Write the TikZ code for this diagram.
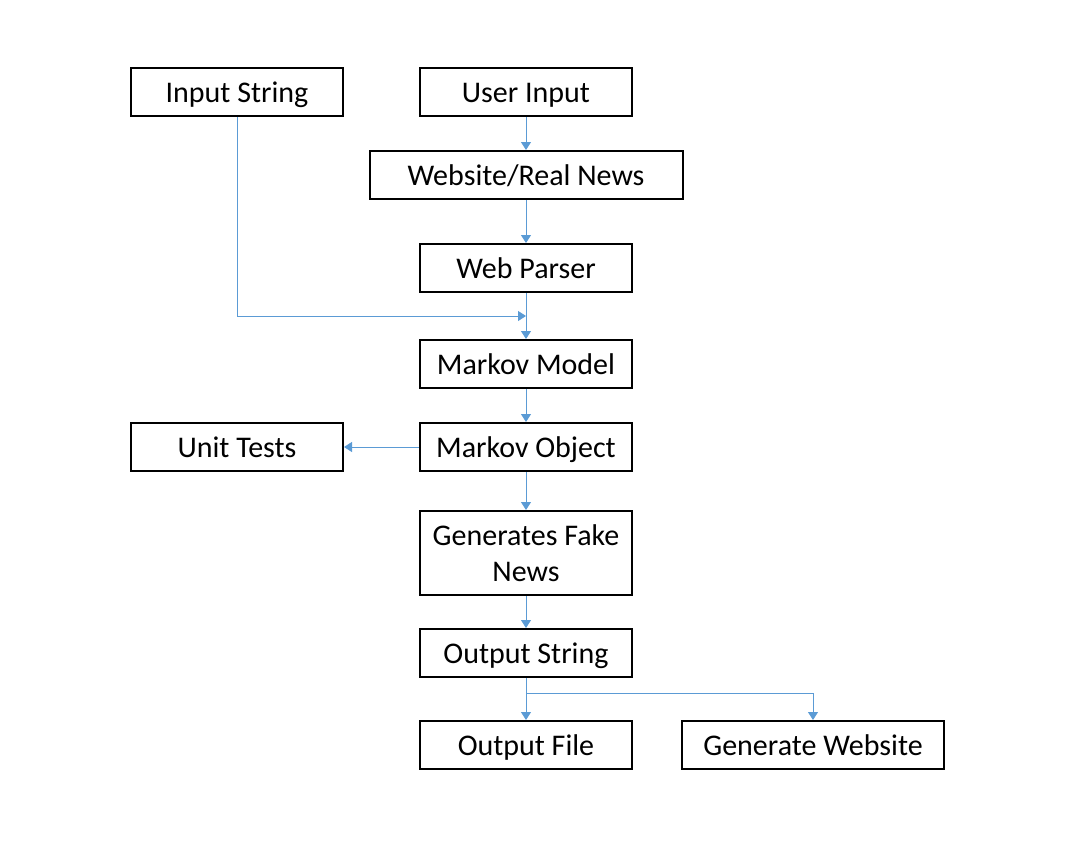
\documentclass[tikz,border=0pt]{standalone}
\usepackage{fontspec}
\setmainfont{Carlito}
\usetikzlibrary{arrows.meta}
\definecolor{linkblue}{HTML}{5B9BD5}
\begin{document}
\begin{tikzpicture}[x=0.5pt, y=-0.5pt,
    stage/.style={draw, line width=1pt, inner sep=0pt, minimum width=106pt,
        minimum height=24pt, align=center, text height=13pt, text depth=3pt,
        font=\fontsize{15pt}{18pt}\selectfont},
    link/.style={draw=linkblue, line width=0.5pt, -{Triangle[length=4pt, width=5pt]}}]
        \useasboundingbox (0, 0) rectangle (1088, 847);

        \node (instr) at (237, 92) [stage] {Input String};
        \node (user) at (526, 92) [stage] {User Input};
        \node (site) at (526, 175) [stage, minimum width=156.5pt] {Website/Real News};
        \node (parser) at (526, 268) [stage] {Web Parser};
        \node (model) at (526, 364) [stage] {Markov Model};
        \node (unit) at (237, 447) [stage] {Unit Tests};
        \node (object) at (526, 447) [stage] {Markov Object};
        \node (fake) at (526, 553) [stage, minimum height=42pt, text height=, text depth=]
            {Generates Fake\\News};
        \node (outstr) at (526, 653) [stage] {Output String};
        \node (outfile) at (526, 745) [stage] {Output File};
        \node (gensite) at (813, 745) [stage, minimum width=131pt] {Generate Website};

        \coordinate (merge) at (526, 316);
        \coordinate (split) at (526, 693);

        \foreach \a/\b in {user/site, site/parser, parser/model, model/object,
                object/fake, fake/outstr, outstr/outfile}
            {\draw [link] (\a) -- (\b);}

        \draw [link] (instr) |- (merge);
        \draw [link] (object) -- (unit);
        \draw [link] (split) -| (gensite);
    \end{tikzpicture}
\end{document}
